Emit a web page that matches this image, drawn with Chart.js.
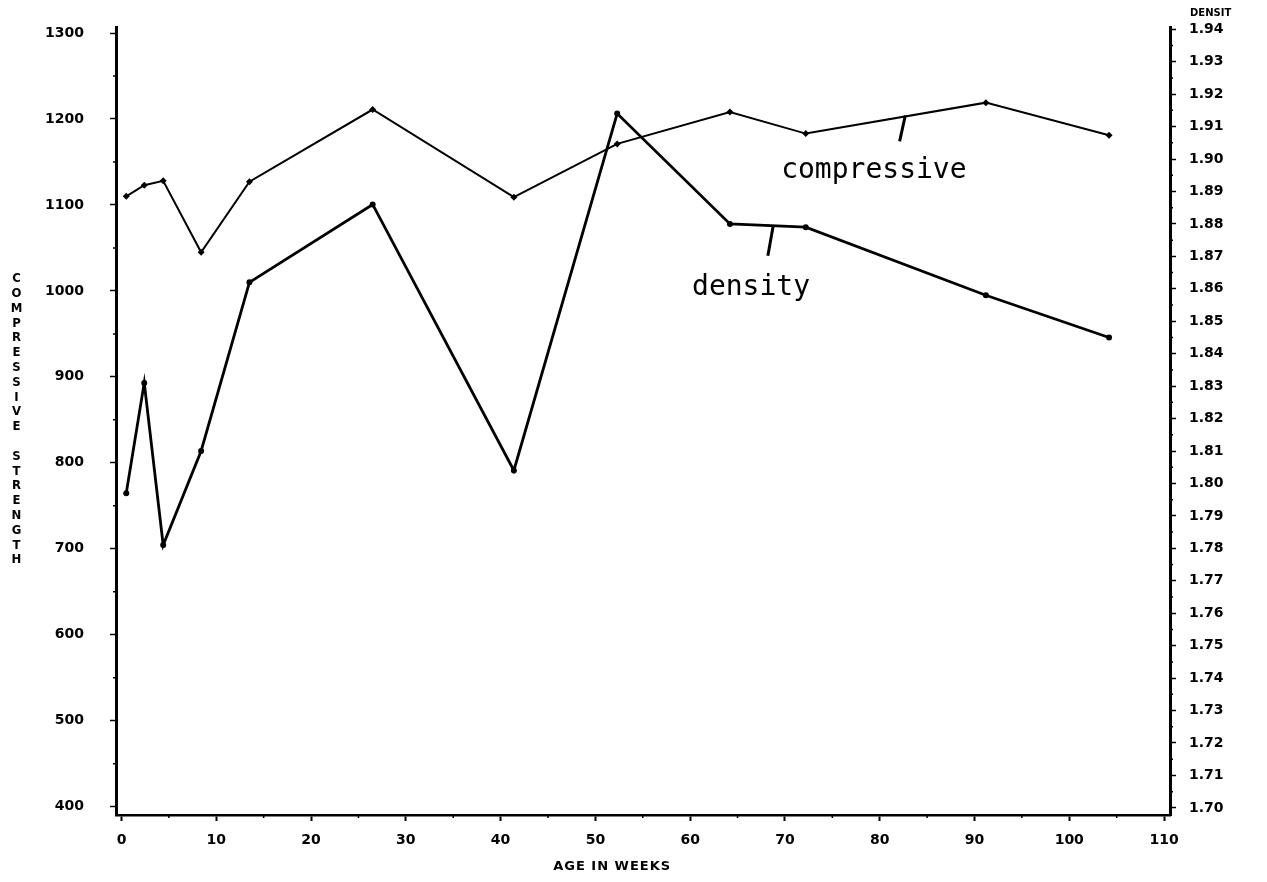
<!DOCTYPE html>
<html>
<head>
<meta charset="utf-8">
<script src="https://cdn.jsdelivr.net/npm/chart.js@4.4.1/dist/chart.umd.min.js"></script>
<style>
  html, body { margin: 0; padding: 0; background: #fff; }
  #wrap { width: 1267px; height: 882px; position: relative; }
</style>
</head>
<body>
<div id="wrap"><canvas id="c"></canvas></div>
<script>
// Age of specimens (weeks) and the two measured properties
const weeks       = [0.5, 2.4, 4.4, 8.4, 13.5, 26.5, 41.4, 52.3, 64.2, 72.2, 91.2, 104.2];
const compressive = [1110, 1123, 1128, 1045, 1127, 1211, 1109, 1171, 1208, 1183, 1219, 1181];
const density     = [1.797, 1.831, 1.781, 1.810, 1.862, 1.886, 1.804, 1.914, 1.880, 1.879, 1.858, 1.845];

// Axis tick values
const weekTicks      = [0, 10, 20, 30, 40, 50, 60, 70, 80, 90, 100, 110];
const weekMinor      = [5, 15, 25, 35, 45, 55, 65, 75, 85, 95, 105];
const strengthTicks  = [400, 500, 600, 700, 800, 900, 1000, 1100, 1200, 1300];
const strengthMinor  = [450, 550, 650, 750, 850, 950, 1050, 1150, 1250];
const densityTicks   = [1.70, 1.71, 1.72, 1.73, 1.74, 1.75, 1.76, 1.77, 1.78, 1.79, 1.80, 1.81,
                        1.82, 1.83, 1.84, 1.85, 1.86, 1.87, 1.88, 1.89, 1.90, 1.91, 1.92, 1.93, 1.94];
const densityMinor   = [1.705, 1.715, 1.725, 1.735, 1.745, 1.755, 1.765, 1.775, 1.785, 1.795, 1.805, 1.815,
                        1.825, 1.835, 1.845, 1.855, 1.865, 1.875, 1.885, 1.895, 1.905, 1.915, 1.925, 1.935];

// Curve labels with their leader strokes, in data units (weeks, strength)
const curveLabels = [
  { text: 'compressive', x: 69.6, y: 1131, lead: [[82.7, 1204], [82.1, 1174]] },
  { text: 'density',     x: 60.2, y: 995,  lead: [[68.75, 1075], [68.2, 1041]] }
];

const yTitle = 'COMPRESSIVE STRENGTH';
const xTitle = 'AGE IN WEEKS';
const rTitle = 'DENSIT';

const tickFont = { family: 'DejaVu Sans', weight: 'bold', size: 14 };

function fixTicks(values) {
  return function (scale) { scale.ticks = values.map(v => ({ value: v })); };
}
function noPad(scale) {
  scale.paddingTop = 0; scale.paddingBottom = 0;
  scale.paddingLeft = 0; scale.paddingRight = 0;
}

const decorations = {
  id: 'decorations',
  afterDraw(chart) {
    const ctx = chart.ctx;
    const a = chart.chartArea;
    const xs = chart.scales.x, ys = chart.scales.y, yd = chart.scales.yd;
    ctx.save();
    ctx.fillStyle = '#000';
    ctx.strokeStyle = '#000';

    // minor tick marks
    ctx.lineWidth = 1.5;
    ctx.beginPath();
    weekMinor.forEach(v => { const p = xs.getPixelForValue(v); ctx.moveTo(p, a.bottom); ctx.lineTo(p, a.bottom + 3); });
    strengthMinor.forEach(v => { const p = ys.getPixelForValue(v); ctx.moveTo(a.left, p); ctx.lineTo(a.left - 3, p); });
    densityMinor.forEach(v => { const p = yd.getPixelForValue(v); ctx.moveTo(a.right, p); ctx.lineTo(a.right + 3, p); });
    ctx.stroke();

    // stacked vertical title on the left
    ctx.font = 'bold 13px "DejaVu Sans Condensed", "DejaVu Sans"';
    ctx.textAlign = 'center';
    ctx.textBaseline = 'middle';
    const step = 14.8;
    const mid = (a.top + a.bottom) / 2 - 1.5;
    const y0 = mid - step * (yTitle.length - 1) / 2;
    for (let i = 0; i < yTitle.length; i++) {
      ctx.fillText(yTitle[i], 16.5, y0 + i * step);
    }

    // bottom title
    ctx.font = 'bold 13px "DejaVu Sans"';
    ctx.letterSpacing = '1px';
    ctx.textAlign = 'center';
    ctx.fillText(xTitle, a.left + (a.right - a.left) * 0.4707, a.bottom + 52);
    ctx.letterSpacing = '0px';

    // right axis title
    ctx.font = 'bold 10px "DejaVu Sans"';
    ctx.textAlign = 'left';
    ctx.fillText(rTitle, a.right + 20, a.top - 14);

    // curve labels
    ctx.font = '28px "DejaVu Sans Mono"';
    ctx.textBaseline = 'alphabetic';
    ctx.textAlign = 'left';
    ctx.lineWidth = 3;
    curveLabels.forEach(l => {
      ctx.fillText(l.text, xs.getPixelForValue(l.x), ys.getPixelForValue(l.y));
      ctx.beginPath();
      ctx.moveTo(xs.getPixelForValue(l.lead[0][0]), ys.getPixelForValue(l.lead[0][1]));
      ctx.lineTo(xs.getPixelForValue(l.lead[1][0]), ys.getPixelForValue(l.lead[1][1]));
      ctx.stroke();
    });
    ctx.restore();
  }
};

new Chart(document.getElementById('c'), {
  type: 'line',
  data: {
    datasets: [
      {
        label: 'compressive',
        data: weeks.map((w, i) => ({ x: w, y: compressive[i] })),
        yAxisID: 'y',
        borderColor: '#000', backgroundColor: '#000',
        borderWidth: 2, tension: 0,
        pointStyle: 'rectRot', pointRadius: 3.5, pointBorderWidth: 0
      },
      {
        label: 'density',
        data: weeks.map((w, i) => ({ x: w, y: density[i] })),
        yAxisID: 'yd',
        borderColor: '#000', backgroundColor: '#000',
        borderWidth: 2.8, tension: 0,
        pointStyle: 'circle', pointRadius: 3, pointBorderWidth: 0
      }
    ]
  },
  options: {
    responsive: true,
    maintainAspectRatio: false,
    devicePixelRatio: 1,
    animation: false,
    layout: { padding: { top: 27, left: 0, right: 0, bottom: 0 } },
    plugins: { legend: { display: false }, tooltip: { enabled: false } },
    scales: {
      x: {
        type: 'linear', position: 'bottom',
        min: -0.58, max: 110.63,
        afterBuildTicks: fixTicks(weekTicks),
        afterFit(s) { s.height = 67; noPad(s); },
        border: { display: true, color: '#000', width: 2.5 },
        grid: { drawOnChartArea: false, drawTicks: true, tickLength: 6, tickWidth: 2, tickColor: '#000' },
        ticks: { autoSkip: false, maxRotation: 0, padding: 11, color: '#000', font: tickFont,
                 callback: v => String(v) }
      },
      y: {
        type: 'linear', position: 'left',
        min: 390.3, max: 1307,
        afterBuildTicks: fixTicks(strengthTicks),
        afterFit(s) { s.width = 116; noPad(s); },
        border: { display: true, color: '#000', width: 3 },
        grid: { drawOnChartArea: false, drawTicks: true, tickLength: 6, tickWidth: 1.5, tickColor: '#000' },
        ticks: { autoSkip: false, padding: 26, color: '#000', font: tickFont,
                 callback: v => String(v) }
      },
      yd: {
        type: 'linear', position: 'right',
        min: 1.6978, max: 1.9407,
        afterBuildTicks: fixTicks(densityTicks),
        afterFit(s) { s.width = 97; noPad(s); },
        border: { display: true, color: '#000', width: 3 },
        grid: { drawOnChartArea: false, drawTicks: true, tickLength: 6, tickWidth: 1.5, tickColor: '#000' },
        ticks: { autoSkip: false, padding: 13, color: '#000', font: tickFont,
                 callback: v => Number(v).toFixed(2) }
      }
    }
  },
  plugins: [decorations]
});
</script>
</body>
</html>
